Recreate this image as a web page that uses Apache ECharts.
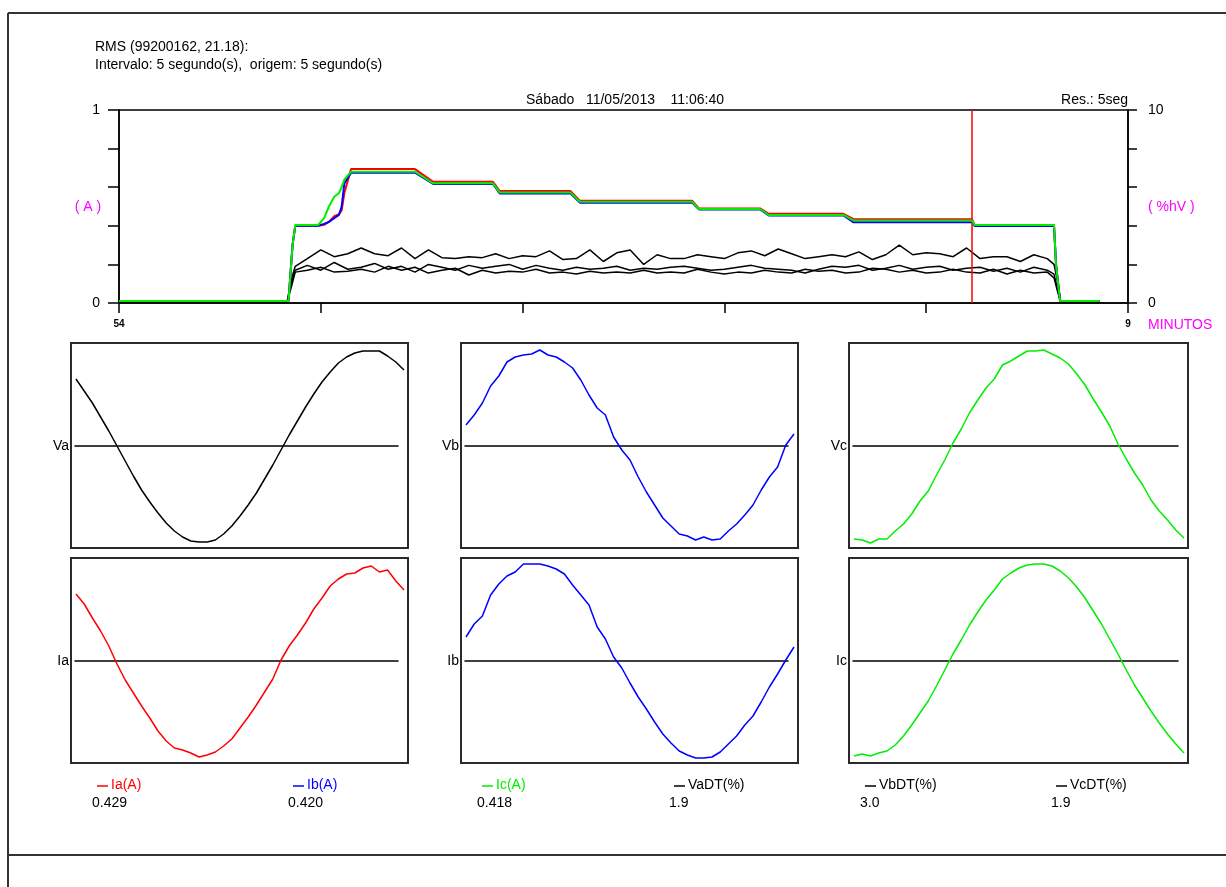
<!DOCTYPE html>
<html><head><meta charset="utf-8">
<script src="https://cdn.jsdelivr.net/npm/echarts@6/dist/echarts.min.js"></script>
<style>html,body{margin:0;padding:0;background:#fff}#c{width:1226px;height:887px}</style>
</head><body><div id="c"></div><script>
// ---------- text ----------
const TITLE_LINES = ['RMS (99200162, 21.18):', 'Intervalo: 5 segundo(s),  origem: 5 segundo(s)'];
const HEADER_DATE = 'Sábado   11/05/2013    11:06:40';
const HEADER_RES = 'Res.: 5seg';
const X_TICK_LABELS = ['54', '', '', '', '', '9'];
const Y_LEFT_TICK_LABELS = ['0', '', '', '', '', '1'];
const Y_RIGHT_TICK_LABELS = ['0', '', '', '', '', '10'];
const X_NAME = 'MINUTOS';
const Y_LEFT_NAME = '( A )';
const Y_RIGHT_NAME = '( %hV )';
const CURSOR_T = 12.667; // minutes after 10:54 -> 11:06:40

// ---------- RMS currents (minutes from 10:54, amperes) ----------
const CUR_T = [0, 2.52, 2.58, 2.62, 2.96, 3.05, 3.12, 3.2, 3.27, 3.31, 3.35, 3.45, 4.4, 4.67, 5.56, 5.66, 6.71, 6.85, 8.52, 8.62, 9.53, 9.66, 10.77, 10.92, 12.68, 12.72, 13.9, 13.93, 13.99, 14.58];
const IA_RMS = [0.01, 0.01, 0.30, 0.40, 0.40, 0.405, 0.42, 0.45, 0.46, 0.48, 0.57, 0.694, 0.694, 0.628, 0.628, 0.58, 0.58, 0.53, 0.53, 0.49, 0.49, 0.462, 0.462, 0.434, 0.434, 0.404, 0.404, 0.2, 0.01, 0.01];
const IB_RMS = [0.01, 0.01, 0.30, 0.40, 0.40, 0.41, 0.42, 0.44, 0.456, 0.50, 0.62, 0.675, 0.675, 0.617, 0.617, 0.568, 0.568, 0.52, 0.52, 0.485, 0.485, 0.454, 0.454, 0.418, 0.418, 0.399, 0.399, 0.2, 0.01, 0.01];
const IC_RMS = [0.01, 0.01, 0.30, 0.404, 0.404, 0.44, 0.50, 0.55, 0.57, 0.60, 0.64, 0.68, 0.68, 0.62, 0.62, 0.573, 0.573, 0.525, 0.525, 0.487, 0.487, 0.456, 0.456, 0.427, 0.427, 0.404, 0.404, 0.2, 0.01, 0.01];

// ---------- voltage THD (%) ----------
const THD_T = [0, 2.5, 2.56, 2.62, 2.8, 3.0, 3.2, 3.4, 3.6, 3.8, 4.0, 4.2, 4.4, 4.6, 4.8, 5.0, 5.2, 5.4, 5.6, 5.8, 6.0, 6.2, 6.4, 6.6, 6.8, 7.0, 7.2, 7.4, 7.6, 7.8, 8.0, 8.2, 8.4, 8.6, 8.8, 9.0, 9.2, 9.4, 9.6, 9.8, 10.0, 10.2, 10.4, 10.6, 10.8, 11.0, 11.2, 11.4, 11.6, 11.8, 12.0, 12.2, 12.4, 12.6, 12.8, 13.0, 13.2, 13.4, 13.6, 13.8, 13.9, 13.96, 14.0, 14.58];
const VA_DT = [0.06, 0.06, 1.0, 1.7, 1.95, 1.7, 2.1, 1.75, 1.85, 2.05, 1.75, 1.9, 1.6, 2.0, 1.85, 1.7, 1.95, 1.8, 1.9, 2.0, 1.75, 1.95, 1.8, 1.7, 1.85, 1.75, 1.8, 1.9, 1.7, 1.8, 1.75, 1.85, 1.9, 1.8, 1.7, 1.75, 1.85, 1.95, 1.8, 1.75, 1.7, 1.55, 1.75, 1.9, 1.85, 1.95, 1.7, 1.8, 1.95, 1.75, 1.85, 1.9, 1.7, 1.8, 1.85, 1.65, 1.8, 1.6, 1.85, 1.7, 1.5, 0.6, 0.06, 0.06];
const VB_DT = [0.08, 0.08, 1.2, 1.9, 2.3, 2.75, 2.4, 2.55, 2.85, 2.55, 2.45, 2.85, 2.3, 2.75, 2.35, 2.3, 2.4, 2.35, 2.55, 2.3, 2.45, 2.4, 2.7, 2.25, 2.3, 2.75, 2.15, 2.6, 2.75, 2.0, 2.5, 2.3, 2.3, 2.5, 2.4, 2.3, 2.6, 2.7, 2.45, 2.8, 2.55, 2.3, 2.4, 2.5, 2.4, 2.65, 2.25, 2.5, 3.0, 2.5, 2.6, 2.55, 2.4, 2.85, 2.3, 2.4, 2.4, 2.15, 2.5, 2.3, 2.0, 1.0, 0.08, 0.08];
const VC_DT = [0.05, 0.05, 0.8, 1.6, 1.7, 1.85, 1.6, 1.65, 1.75, 1.6, 1.9, 1.7, 1.85, 1.55, 1.7, 1.8, 1.45, 1.7, 1.55, 1.65, 1.6, 1.75, 1.55, 1.6, 1.5, 1.65, 1.55, 1.6, 1.55, 1.7, 1.55, 1.6, 1.55, 1.75, 1.6, 1.5, 1.6, 1.55, 1.7, 1.6, 1.55, 1.75, 1.65, 1.7, 1.55, 1.6, 1.8, 1.75, 1.6, 1.7, 1.55, 1.6, 1.75, 1.6, 1.55, 1.75, 1.5, 1.7, 1.55, 1.6, 1.3, 0.5, 0.05, 0.05];

// ---------- one cycle of waveforms (41 samples, relative units, ±~100) ----------
const VA_WAVE = [67, 55, 43, 29, 15, 0, -15, -30, -44, -56, -67, -77, -85, -91, -95, -96, -96, -94, -88, -80, -70, -59, -47, -33, -19, -4, 11, 25, 39, 52, 64, 74, 83, 89, 93, 95, 95, 95, 90, 84, 76];
const VB_WAVE = [21, 31, 43, 60, 70, 84, 89, 91, 92, 96, 91, 89, 84, 78, 66, 51, 38, 31, 9, -4, -14, -31, -46, -59, -72, -80, -88, -90, -94, -91, -94, -93, -85, -78, -69, -59, -44, -31, -21, 1, 12];
const VC_WAVE = [-93, -94, -97, -93, -93, -85, -78, -68, -55, -45, -29, -14, 3, 17, 33, 46, 58, 67, 81, 85, 90, 95, 95, 96, 92, 88, 82, 72, 61, 47, 34, 20, 2, -13, -27, -39, -54, -65, -74, -84, -92];
const IA_WAVE = [67, 57, 43, 30, 15, -3, -19, -32, -45, -57, -70, -80, -87, -89, -92, -96, -94, -91, -85, -78, -67, -56, -44, -31, -18, 1, 15, 26, 38, 52, 63, 75, 82, 87, 88, 93, 95, 89, 91, 80, 71];
const IB_WAVE = [24, 37, 45, 66, 77, 85, 89, 97, 97, 97, 95, 92, 87, 76, 66, 56, 34, 22, 4, -7, -22, -36, -48, -61, -73, -82, -90, -94, -97, -97, -96, -91, -83, -75, -64, -55, -41, -26, -13, 1, 14];
const IC_WAVE = [-95, -93, -95, -92, -90, -84, -75, -64, -52, -40, -25, -9, 7, 21, 36, 49, 61, 71, 82, 88, 93, 96, 97, 97, 95, 90, 83, 74, 63, 50, 37, 22, 7, -9, -24, -37, -50, -62, -73, -83, -92];
const PANEL_LABELS = ['Va', 'Vb', 'Vc', 'Ia', 'Ib', 'Ic'];

// ---------- legend ----------
const LEGEND_NAMES = ['Ia(A)', 'Ib(A)', 'Ic(A)', 'VaDT(%)', 'VbDT(%)', 'VcDT(%)'];
const LEGEND_VALUES = ['0.429', '0.420', '0.418', '1.9', '3.0', '1.9'];

// ================= layout / style =================
const FONT = '"Liberation Sans", Arial, sans-serif';
const RED = '#ff0000', BLUE = '#0000ff', GREEN = '#00ee00', MAG = '#ff00ff';
const TOP = {left: 119, top: 110, width: 1009, height: 193};
const COL_L = [71, 461, 849], COL_W = [337, 337, 339];
const ROW_T = [343, 558], ROW_H = 205;
const WAVES = [VA_WAVE, VB_WAVE, VC_WAVE, IA_WAVE, IB_WAVE, IC_WAVE];
const WAVE_COLORS = ['#000000', BLUE, GREEN, RED, BLUE, GREEN];
const LEG_COLORS = [RED, BLUE, GREEN, '#000', '#000', '#000'];
const LEG_X = [92, 288, 477, 669, 860, 1051];

const grids = [], xAxes = [], yAxes = [], series = [], graphics = [];
const lineS = {color: '#000', width: 1.5};

grids.push({left: TOP.left, top: TOP.top, width: TOP.width, height: TOP.height, show: true, borderColor: '#000', borderWidth: 1.5});
xAxes.push({gridIndex: 0, type: 'value', min: 0, max: 15, interval: 3,
  axisLine: {show: true, onZero: false, lineStyle: lineS},
  axisTick: {show: true, length: 10, lineStyle: lineS},
  axisLabel: {show: true, margin: 16, fontSize: 10, fontWeight: 'bold', color: '#000', fontFamily: FONT,
    formatter: v => X_TICK_LABELS[Math.round(v / 3)] || ''},
  splitLine: {show: false}});
yAxes.push({gridIndex: 0, type: 'value', position: 'left', min: 0, max: 1, interval: 0.2,
  axisLine: {show: true, onZero: false, lineStyle: lineS},
  axisTick: {show: true, length: 11, lineStyle: lineS},
  axisLabel: {margin: 19, fontSize: 14, color: '#000', fontFamily: FONT,
    formatter: v => Y_LEFT_TICK_LABELS[Math.round(v / 0.2)] || ''},
  splitLine: {show: false}});
yAxes.push({gridIndex: 0, type: 'value', position: 'right', min: 0, max: 10, interval: 2,
  axisLine: {show: true, onZero: false, lineStyle: lineS},
  axisTick: {show: true, length: 9, lineStyle: lineS},
  axisLabel: {margin: 20, fontSize: 14, color: '#000', fontFamily: FONT,
    formatter: v => Y_RIGHT_TICK_LABELS[Math.round(v / 2)] || ''},
  splitLine: {show: false}});

const pairs = (xs, ys) => xs.map((x, i) => [x, ys[i]]);
[VA_DT, VB_DT, VC_DT].forEach(d => {
  series.push({type: 'line', xAxisIndex: 0, yAxisIndex: 1, data: pairs(THD_T, d), symbol: 'none',
    lineStyle: {color: '#000', width: 1.5}, silent: true, z: 2});
});
series.push({type: 'line', xAxisIndex: 0, yAxisIndex: 0, data: pairs(CUR_T, IA_RMS), symbol: 'none', lineStyle: {color: RED, width: 2}, silent: true, z: 3});
series.push({type: 'line', xAxisIndex: 0, yAxisIndex: 0, data: pairs(CUR_T, IB_RMS), symbol: 'none', lineStyle: {color: BLUE, width: 2}, silent: true, z: 4});
series.push({type: 'line', xAxisIndex: 0, yAxisIndex: 0, data: pairs(CUR_T, IC_RMS), symbol: 'none', lineStyle: {color: GREEN, width: 2}, silent: true, z: 5,
  markLine: {silent: true, symbol: ['none', 'none'], label: {show: false}, animation: false,
    lineStyle: {color: RED, width: 1.5, type: 'solid'}, emphasis: {disabled: true},
    data: [{xAxis: CURSOR_T}]}});

// waveform panels
for (let p = 0; p < 6; p++) {
  const c = p % 3, r = Math.floor(p / 3);
  const L = COL_L[c], W = COL_W[c], T = ROW_T[r];
  const n = WAVES[p].length - 1, span = W - 9;
  const gBox = grids.length;
  grids.push({left: L, top: T, width: W, height: ROW_H, show: true, borderColor: '#2a2a2a', borderWidth: 2});
  xAxes.push({gridIndex: gBox, type: 'value', min: -5 * n / span, max: n + 4 * n / span, show: false});
  yAxes.push({gridIndex: gBox, type: 'value', min: -102, max: 103, show: false});
  series.push({type: 'line', xAxisIndex: xAxes.length - 1, yAxisIndex: yAxes.length - 1,
    data: WAVES[p].map((v, i) => [i, v]), symbol: 'none', silent: true,
    lineStyle: {color: WAVE_COLORS[p], width: 1.5}, z: 3});
  // inner grid carrying the zero line
  const gIn = grids.length;
  grids.push({left: L + 4, top: T, width: W - 14, height: ROW_H, show: false});
  xAxes.push({gridIndex: gIn, type: 'value', min: 0, max: 1,
    axisLine: {show: true, onZero: true, lineStyle: {color: '#000', width: 1.5}},
    axisTick: {show: false}, axisLabel: {show: false}, splitLine: {show: false}});
  yAxes.push({gridIndex: gIn, type: 'value', min: -102, max: 103, show: false});
  graphics.push({type: 'text', x: L - 2, y: T + 103, silent: true,
    style: {text: PANEL_LABELS[p], fill: '#000', font: '14px ' + FONT, align: 'right', textAlign: 'right', verticalAlign: 'middle', textVerticalAlign: 'middle'}});
}

function txt(x, y, text, fill, align, size) {
  graphics.push({type: 'text', x, y, silent: true,
    style: {text, fill: fill || '#000', font: (size || 14) + 'px ' + FONT, align: align || 'left', textAlign: align || 'left', verticalAlign: 'middle', textVerticalAlign: 'middle'}});
}
txt(95, 47, TITLE_LINES[0]);
txt(95, 65, TITLE_LINES[1]);
txt(625, 100, HEADER_DATE, '#000', 'center');
txt(1128, 100, HEADER_RES, '#000', 'right');
txt(88, 207, Y_LEFT_NAME, MAG, 'center');
txt(1148, 207, Y_RIGHT_NAME, MAG, 'left');
txt(1148, 325, X_NAME, MAG, 'left');
for (let i = 0; i < LEGEND_NAMES.length; i++) {
  const x = LEG_X[i];
  graphics.push({type: 'line', silent: true, shape: {x1: x + 5, y1: 786, x2: x + 16, y2: 786}, style: {stroke: LEG_COLORS[i], lineWidth: 1.5}});
  txt(x + 19, 785, LEGEND_NAMES[i], LEG_COLORS[i]);
  txt(x, 803, LEGEND_VALUES[i]);
}
// page frame
[[8, 13, 1226, 13], [8, 13, 8, 887], [8, 855, 1226, 855]].forEach(s => {
  graphics.push({type: 'line', silent: true, shape: {x1: s[0], y1: s[1], x2: s[2], y2: s[3]}, style: {stroke: '#333', lineWidth: 2}});
});

const chart = echarts.init(document.getElementById('c'), null, {renderer: 'canvas'});
chart.setOption({animation: false, backgroundColor: '#fff', grid: grids, xAxis: xAxes, yAxis: yAxes, series, graphic: graphics,
  textStyle: {fontFamily: FONT}});
</script></body></html>
